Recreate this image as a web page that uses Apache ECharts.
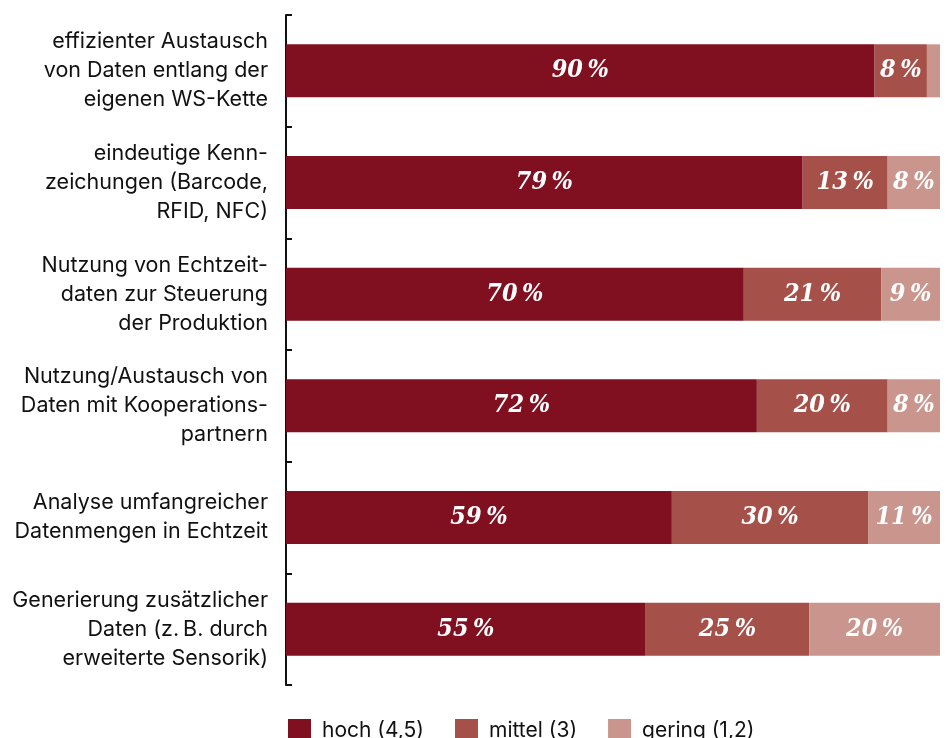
<!DOCTYPE html>
<html>
<head>
<meta charset="utf-8">
<script src="https://cdn.jsdelivr.net/npm/echarts@6/dist/echarts.min.js"></script>
<style>
  html, body { margin: 0; padding: 0; background: #fff; }
  #chart { width: 950px; height: 738px; }
</style>
</head>
<body>
<div id="chart"></div>
<script>
// Kategorien (von oben nach unten)
var categories = [
  'effizienter Austausch\nvon Daten entlang der\neigenen WS-Kette',
  'eindeutige Kenn-\nzeichungen (Barcode,\nRFID, NFC)',
  'Nutzung von Echtzeit-\ndaten zur Steuerung\nder Produktion',
  'Nutzung/Austausch von\nDaten mit Kooperations-\npartnern',
  'Analyse umfangreicher\nDatenmengen in Echtzeit',
  'Generierung zusätzlicher\nDaten (z.\u2009B. durch\nerweiterte Sensorik)'
];
var seriesNames = ['hoch (4,5)', 'mittel (3)', 'gering (1,2)'];
var hoch   = [90, 79, 70, 72, 59, 55];
var mittel = [8, 13, 21, 20, 30, 25];
var gering = [2, 8, 9, 8, 11, 20];
var colors = ['#800f20', '#a55048', '#c9958c'];

var labelFont = {
  show: true,
  position: 'inside',
  color: '#fff',
  fontFamily: '"DejaVu Serif Condensed", "DejaVu Serif"',
  fontStyle: 'italic',
  fontWeight: 'bold',
  fontSize: 25,
  formatter: function (p) {
    if (p.value < 5) return '';
    return p.value + '\u2009%';
  }
};

function makeSeries(name, data, color) {
  return {
    name: name,
    type: 'bar',
    stack: 'all',
    barWidth: 53,
    itemStyle: { color: color },
    label: labelFont,
    data: data
  };
}

var chart = echarts.init(document.getElementById('chart'));
chart.setOption({
  animation: false,
  grid: { left: 286, right: 10, top: 15, bottom: 53 },
  legend: {
    left: 283,
    top: 714,
    itemWidth: 23,
    itemHeight: 23,
    itemGap: 31,
    icon: 'rect',
    textStyle: { fontFamily: 'Inter', fontSize: 21, color: '#111', padding: [0, 0, 0, 6] },
    data: seriesNames
  },
  xAxis: { type: 'value', min: 0, max: 100, show: false },
  yAxis: {
    type: 'category',
    inverse: true,
    data: categories,
    axisLine: { show: true, lineStyle: { color: '#111', width: 2 } },
    axisTick: { show: true, inside: true, length: 6, lineStyle: { color: '#111', width: 2 } },
    axisLabel: {
      margin: 18,
      align: 'right',
      fontFamily: 'Inter',
      fontSize: 21.5,
      lineHeight: 29,
      color: '#111'
    }
  },
  series: [
    makeSeries(seriesNames[0], hoch, colors[0]),
    makeSeries(seriesNames[1], mittel, colors[1]),
    makeSeries(seriesNames[2], gering, colors[2])
  ]
});
</script>
</body>
</html>
